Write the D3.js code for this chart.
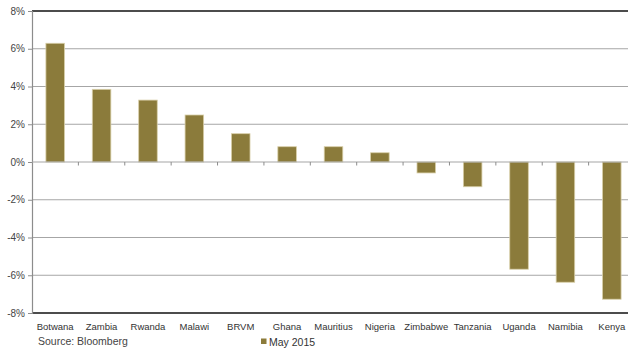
<!DOCTYPE html>
<html>
<head>
<meta charset="utf-8">
<script src="https://cdn.jsdelivr.net/npm/d3@7"></script>
<style>
  html, body { margin: 0; padding: 0; background: #fff; }
  svg { display: block; font-family: "Liberation Sans", Arial, sans-serif; }
</style>
</head>
<body>
<svg id="chart" width="628" height="349"></svg>
<script>
// Market returns by country, May 2015 (%)
const categories = ["Botwana", "Zambia", "Rwanda", "Malawi", "BRVM", "Ghana", "Mauritius",
  "Nigeria", "Zimbabwe", "Tanzania", "Uganda", "Namibia", "Kenya"];
const may2015 = [6.29, 3.85, 3.28, 2.49, 1.5, 0.81, 0.81, 0.49, -0.58, -1.31, -5.68, -6.37, -7.27];
const yTicks = [-8, -6, -4, -2, 0, 2, 4, 6, 8];
const seriesName = "May 2015";
const sourceText = "Source: Bloomberg";

const svg = d3.select("#chart");
const W = 628, H = 349;
const plotLeft = 32, plotRight = 635, plotTop = 11, plotBottom = 313;

const x = d3.scaleBand().domain(categories)
  .range([plotLeft, plotRight]).paddingInner(0.6).paddingOuter(0.3);
const xBand = d3.scaleBand().domain(categories).range([plotLeft, plotRight]);
const y = d3.scaleLinear().domain([-8, 8]).range([plotBottom, plotTop]);

const barFill = "#8b7b3b";
const barEdge = "#d8cfa8";

// horizontal grid lines
svg.append("g").selectAll("line").data(yTicks.filter(t => t !== 0 && Math.abs(t) !== 8)).join("line")
  .attr("x1", plotLeft).attr("x2", W)
  .attr("y1", d => y(d)).attr("y2", d => y(d))
  .attr("stroke", "#a6a6a6").attr("stroke-width", 1.2);

// top and bottom frame lines
svg.append("g").selectAll("line").data([8, -8]).join("line")
  .attr("x1", plotLeft).attr("x2", W)
  .attr("y1", d => y(d)).attr("y2", d => y(d))
  .attr("stroke", "#111").attr("stroke-width", 1.3);

// y axis
const yAxis = d3.axisLeft(y).tickValues(yTicks).tickFormat(d => d + "%").tickSize(4).tickPadding(3);
const gy = svg.append("g").attr("transform", `translate(${plotLeft},0)`).call(yAxis);
gy.select(".domain").attr("stroke", "#8c8c8c").attr("stroke-width", 1.2);
gy.selectAll(".tick line").attr("stroke", "#8c8c8c");
gy.selectAll("text").attr("fill", "#444").attr("font-size", 10);

// bars
svg.append("g").selectAll("rect").data(categories).join("rect")
  .attr("x", d => x(d))
  .attr("width", x.bandwidth())
  .attr("y", (d, i) => y(Math.max(0, may2015[i])))
  .attr("height", (d, i) => Math.abs(y(may2015[i]) - y(0)))
  .attr("fill", barFill)
  .attr("stroke", barEdge).attr("stroke-width", 0.8);

// zero line with category separators
const gz = svg.append("g").attr("transform", `translate(0,${y(0)})`);
gz.append("line").attr("x1", plotLeft).attr("x2", W)
  .attr("stroke", "#a6a6a6").attr("stroke-width", 1.2);
gz.selectAll("line.sep").data(categories.slice(1)).join("line").attr("class", "sep")
  .attr("x1", d => xBand(d)).attr("x2", d => xBand(d))
  .attr("y1", 0).attr("y2", 3.5)
  .attr("stroke", "#8c8c8c");

// category labels
svg.append("g").selectAll("text").data(categories).join("text")
  .attr("x", d => xBand(d) + xBand.bandwidth() / 2)
  .attr("y", 330)
  .attr("text-anchor", "middle")
  .attr("font-size", 9.5)
  .attr("fill", "#333")
  .text(d => d);

// source note
svg.append("text").attr("x", 38).attr("y", 345)
  .attr("font-size", 10.5).attr("fill", "#444").text(sourceText);

// legend
const lg = svg.append("g").attr("transform", "translate(261,338.5)");
lg.append("rect").attr("width", 5.5).attr("height", 5.5).attr("fill", barFill);
lg.append("text").attr("x", 8).attr("y", 7).attr("font-size", 10.5).attr("fill", "#333").text(seriesName);
</script>
</body>
</html>
